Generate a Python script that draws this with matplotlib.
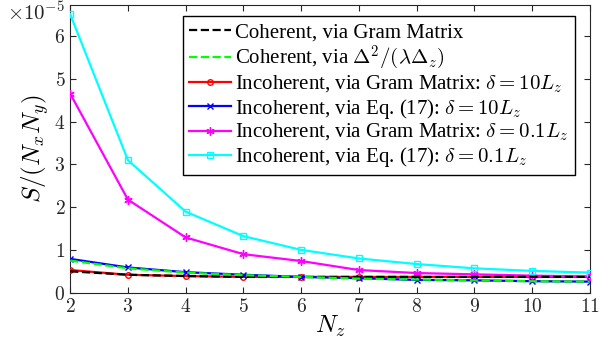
import numpy as np
import matplotlib
matplotlib.use("Agg")
import matplotlib.pyplot as plt

# --------------------
plt.rcParams['font.family'] = 'serif'
plt.rcParams['font.serif'] = ['cmr10']
plt.rcParams['mathtext.fontset'] = 'cm'
plt.rcParams['axes.formatter.use_mathtext'] = True

# --------------------
# values in units of 1e-5
Nz = [2, 3, 4, 5, 6, 7, 8, 9, 10, 11]
coh_gram = [0.51, 0.43, 0.40, 0.38, 0.38, 0.38, 0.38, 0.38, 0.38, 0.38]
coh_delta = [0.76, 0.58, 0.48, 0.42, 0.38, 0.34, 0.32, 0.30, 0.28, 0.27]
inc_gram_10 = [0.54, 0.43, 0.40, 0.38, 0.38, 0.38, 0.38, 0.38, 0.38, 0.38]
inc_eq_10 = [0.80, 0.60, 0.49, 0.43, 0.38, 0.35, 0.31, 0.30, 0.28, 0.27]
inc_gram_01 = [4.65, 2.18, 1.30, 0.91, 0.75, 0.54, 0.47, 0.44, 0.41, 0.39]
inc_eq_01 = [6.50, 3.10, 1.90, 1.33, 1.01, 0.81, 0.68, 0.58, 0.52, 0.48]
yticks = [0, 1, 2, 3, 4, 5, 6]

labels = [
    'Coherent, via Gram Matrix',
    r'Coherent, via $\Delta^2/(\lambda\Delta_z)$',
    r'Incoherent, via Gram Matrix: $\delta=10L_z$',
    r'Incoherent, via Eq. (17): $\delta=10L_z$',
    r'Incoherent, via Gram Matrix: $\delta=0.1L_z$',
    r'Incoherent, via Eq. (17): $\delta=0.1L_z$',
]

# --------------------
fig = plt.figure(figsize=(6, 3.47), dpi=100)
ax = fig.add_axes([0.117, 0.155, 0.866, 0.831])

lw = 1.6
ax.plot(Nz, coh_gram, '--', color='k', lw=lw, label=labels[0], zorder=4)
ax.plot(Nz, coh_delta, '--', color='#00ff00', lw=lw, label=labels[1], zorder=5)
ax.plot(Nz, inc_gram_10, '-o', color='red', lw=lw, ms=4, mfc='none', label=labels[2], zorder=3)
ax.plot(Nz, inc_eq_10, '-x', color='blue', lw=lw, ms=4, label=labels[3], zorder=3)
ax.plot(Nz, inc_gram_01, '-', marker=(6, 2, 0), color='magenta', lw=lw, ms=6, label=labels[4], zorder=3)
ax.plot(Nz, inc_eq_01, '-s', color='cyan', lw=lw, ms=4, mfc='none', label=labels[5], zorder=3)

ax.set_xlim(2, 11)
ax.set_ylim(0, 6.72)
ax.set_xticks(Nz)
ax.set_yticks(yticks)
ax.tick_params(direction='in', top=True, right=True, labelsize=14, length=4, width=0.8, colors='#262626')
for s in ax.spines.values():
    s.set_linewidth(0.8)
    s.set_color('#262626')

# exponent label at top-left, like MATLAB
fig.text(0.012, 0.997, r'$\times10^{-5}$', fontsize=15, ha='left', va='top', color='#262626')

ax.set_xlabel(r'$N_z$', fontsize=18, labelpad=-2)
ax.set_ylabel(r'$S/(N_xN_y)$', fontsize=18, labelpad=2)

leg = ax.legend(loc='upper right', bbox_to_anchor=(0.971, 0.96), borderaxespad=0,
                prop={'family': 'Liberation Serif', 'size': 15},
                frameon=True, fancybox=False, edgecolor='k', framealpha=1,
                handlelength=2.0, handletextpad=0.2, labelspacing=0.08, borderpad=0.3)
leg.get_frame().set_linewidth(1.0)

fig.savefig('out.png', dpi=100)
